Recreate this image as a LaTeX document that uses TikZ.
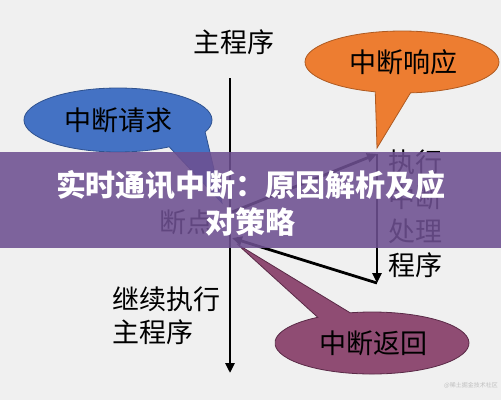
\documentclass[tikz,border=0pt]{standalone}
\usepackage{fontspec}
\setmainfont{Noto Sans CJK SC}
\usetikzlibrary{arrows.meta}
\definecolor{bgC}{RGB}{240,240,240}
\definecolor{blueC}{RGB}{68,114,196}
\definecolor{blueD}{RGB}{47,82,143}
\definecolor{orangeC}{RGB}{237,125,49}
\definecolor{orangeD}{RGB}{174,90,33}
\definecolor{plumC}{RGB}{143,76,115}
\definecolor{plumD}{RGB}{90,42,71}
\definecolor{bannerC}{RGB}{110,80,145}
\begin{document}
\begin{tikzpicture}[x=1pt,y=-1pt,
  lbl/.style={inner sep=0pt,font=\fontsize{27}{27}\selectfont},
  flow/.style={line width=2.8pt,black,-{Triangle[length=10pt,width=9pt]}},
  plain/.style={line width=2.8pt,black},
  bubble/.style={line width=0.8pt}]
\useasboundingbox (0,0) rectangle (501,400);
\fill[bgC] (0,0) rectangle (501,400);
% callouts
\path[bubble,fill=orangeC,draw=orangeD]
  ([shift={(402,62)}]106:97 and 31) -- (377,148) -- ([shift={(402,62)}]85:97 and 31)
  arc[start angle=85,end angle=-254,x radius=97,y radius=31] -- cycle;
\path[bubble,fill=blueC,draw=blueD]
  ([shift={(118,120)}]57:94 and 32) -- (222,203) -- ([shift={(118,120)}]22:94 and 32)
  arc[start angle=22,end angle=-303,x radius=94,y radius=32] -- cycle;
\path[bubble,fill=plumC,draw=plumD]
  ([shift={(372,343)}]-124:97 and 31) -- (237,244) -- ([shift={(372,343)}]-103:97 and 31)
  arc[start angle=-103,end angle=236,x radius=97,y radius=31] -- cycle;
% coordinates
\coordinate (mtop) at (230,78);
\coordinate (mbot) at (230,373);
\coordinate (bp) at (232,212);
\coordinate (ret) at (232,238);
\coordinate (rtop) at (377,154);
\coordinate (rbot) at (377,283);
% connectors
\draw[flow] (mtop) -- (mbot);
\draw[flow] (bp) -- (rtop);
\draw[flow] (rtop) -- (rbot);
\draw[flow] (rbot) -- (ret);
% texts
\node[lbl] (main) at (234,42) {主程序};
\node[lbl] (resp) at (403,62) {中断响应};
\node[lbl] (req) at (118,120) {中断请求};
\node[lbl] (back) at (373,343) {中断返回};
\node[lbl] (brk) at (186,222) {断点};
\node[lbl,align=center,font=\fontsize{27}{34.3}\selectfont] (isr) at (415,214) {执行\\中断\\处理\\程序};
\node[lbl,align=left,anchor=west,font=\fontsize{27}{33}\selectfont] (cont) at (112,316) {继续执行\\主程序};
\node[inner sep=0pt,text=black!25,font=\fontsize{6}{6}\selectfont] (wm) at (471,385) {@稀土掘金技术社区};
% banner
\fill[bannerC,opacity=0.88] (0,152) rectangle (501,248);
\node[inner sep=0pt,align=center,text=white,font=\fontsize{30}{37}\selectfont\bfseries] (title) at (251,203) {实时通讯中断：原因解析及应\\对策略};
\end{tikzpicture}
\end{document}
